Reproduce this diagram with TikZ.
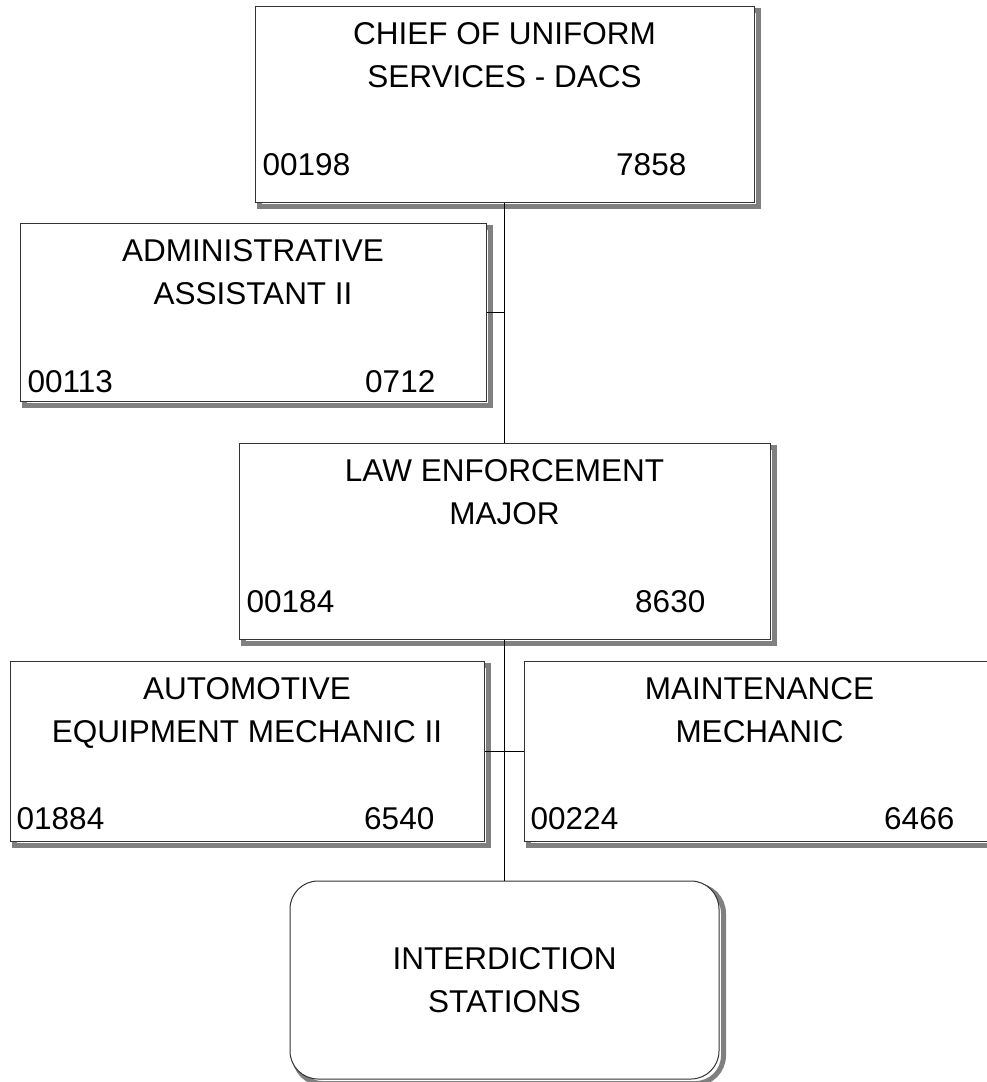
\documentclass[tikz,border=0pt]{standalone}
\usepackage{fontspec}
\setmainfont{Liberation Sans}
\usepackage{tikz}
\usetikzlibrary{calc,positioning}
\definecolor{shadowgray}{gray}{0.5}
\tikzset{
  post/.style={
      draw=black!80,
      line width=1pt,
      fill=white,
      inner sep=0pt,
      align=center,
      preaction={
        draw=shadowgray,
        line width=5pt,
        transform canvas={shift={(4.5pt,-4.5pt)}}
      },
  },
  station/.style={
      post,
      rounded corners=28pt,
  },
  title/.style={
      align=center,
      inner sep=0pt,
  },
  posno/.style={
      inner sep=0pt,
  },
  link/.style={
      draw=black,
      line width=1pt
  }
}

\begin{document}
\begin{tikzpicture}[x=1pt,y=-1pt,font=\fontsize{31.5}{43}\selectfont]
  \useasboundingbox (0,0) rectangle (987,1082);

  % boxes
  \node[post, minimum width=499pt, minimum height=196pt] (chief) at (504.5,104) {};
  \node[post, minimum width=466pt, minimum height=178pt] (admin) at (253,312) {};
  \node[post, minimum width=531pt, minimum height=196pt] (law) at (504.5,541) {};
  \node[post, minimum width=474pt, minimum height=180pt] (auto) at (247,751) {};
  \node[post, minimum width=471pt, minimum height=180pt] (maint) at (759.5,751) {};
  \node[station, minimum width=429pt, minimum height=198pt] (inter) at (504.5,980) {INTERDICTION\\STATIONS};

  % titles
  \node[title, below=17pt of chief.north] (chieft) {CHIEF OF UNIFORM\\SERVICES - DACS};
  \node[title, below=17pt of admin.north] (admint) {ADMINISTRATIVE\\ASSISTANT II};
  \node[title, below=17pt of law.north] (lawt) {LAW ENFORCEMENT\\MAJOR};
  \node[title, below=17pt of auto.north] (autot) {AUTOMOTIVE\\EQUIPMENT MECHANIC II};
  \node[title, below=17pt of maint.north] (maintt) {MAINTENANCE\\MECHANIC};

  % position and class numbers
  \node[posno, anchor=base west] (chiefid) at ($(chief.north west)+(8,170)$) {00198};
  \node[posno, anchor=base east] (chiefcl) at ($(chief.north east)+(-68,170)$) {7858};
  \node[posno, anchor=base west] (adminid) at ($(admin.north west)+(8,170)$) {00113};
  \node[posno, anchor=base east] (admincl) at ($(admin.north east)+(-51,170)$) {0712};
  \node[posno, anchor=base west] (lawid) at ($(law.north west)+(8,170)$) {00184};
  \node[posno, anchor=base east] (lawcl) at ($(law.north east)+(-65,170)$) {8630};
  \node[posno, anchor=base west] (autoid) at ($(auto.north west)+(7,169)$) {01884};
  \node[posno, anchor=base east] (autocl) at ($(auto.north east)+(-50,169)$) {6540};
  \node[posno, anchor=base west] (maintid) at ($(maint.north west)+(7,169)$) {00224};
  \node[posno, anchor=base east] (maintcl) at ($(maint.north east)+(-41,169)$) {6466};

  % lines
  \draw[link] (chief) -- (law);
  \draw[link] (admin.east) -- (admin.east -| chief.south);
  \draw[link] (law) -- (inter);
  \draw[link] (auto.east) -- (maint.west);
\end{tikzpicture}
\end{document}
